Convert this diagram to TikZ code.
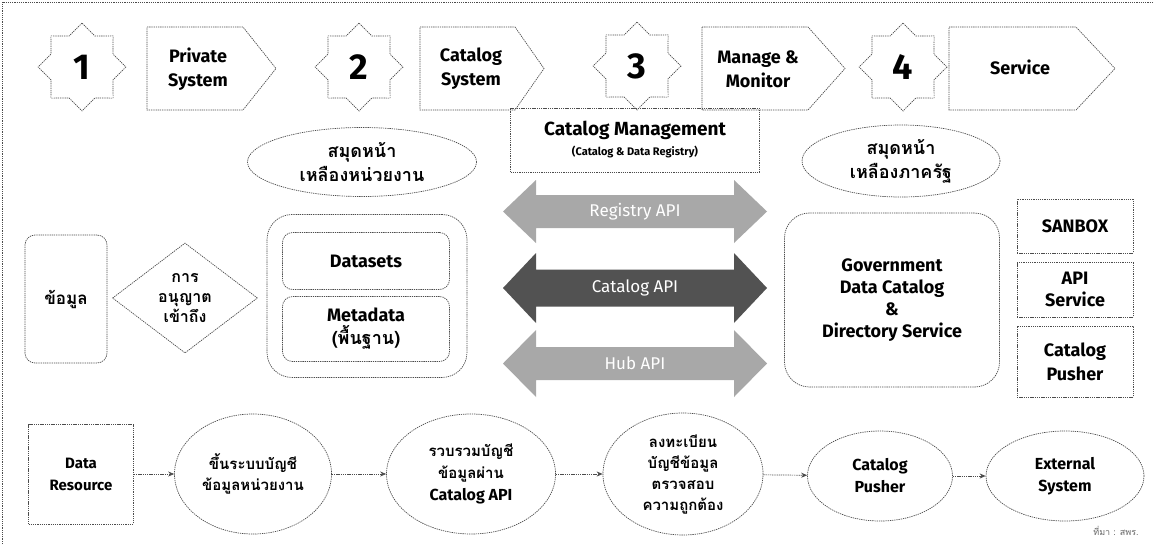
\documentclass[tikz,border=0pt]{standalone}
\usepackage{fontspec}
\setmainfont{Fira Sans}
\newfontfamily\thai[Script=Thai]{Loma}
\usetikzlibrary{shapes.geometric,arrows.meta}
\definecolor{lnc}{gray}{0.3}
\definecolor{lightarr}{gray}{0.66}
\definecolor{darkarr}{gray}{0.32}
\begin{document}
\begin{tikzpicture}[x=1pt,y=-1pt,
  ln/.style={draw=lnc, line width=0.7pt, dash pattern=on 1.3pt off 0.9pt},
  lbl/.style={align=center, font=\bfseries\fontsize{18}{24}\selectfont, inner sep=0pt},
  starshape/.style={ln, star, star points=8, star point ratio=1.31, minimum size=88pt, inner sep=0pt, font=\bfseries\fontsize{36}{36}\selectfont},
  sbox/.style={ln, rectangle, lbl},
  rbox/.style={ln, rectangle, rounded corners=10pt, lbl},
  ell/.style={ln, ellipse, lbl},
  conn/.style={ln, -{Stealth[length=6pt,width=5pt]}},
  th/.style={font=\thai\bfseries\fontsize{18}{24}\selectfont},
  thsmall/.style={font=\thai\bfseries\fontsize{15}{21}\selectfont},
  api/.style={font=\fontsize{17}{17}\selectfont, text=white, inner sep=0pt},
]
\useasboundingbox (0,0) rectangle (1154,544);
\fill[white] (0,0) rectangle (1154,544);
% frame (top and left edges as in the scan)
\draw[ln] (2,544) -- (2,2) -- (1154,2);

% ---- top row: stars and step pentagons
\node[starshape] (s1) at (82,67) {1};
\node[starshape] (s2) at (359,67) {2};
\node[starshape] (s3) at (637,66) {3};
\node[starshape] (s4) at (903,67) {4};

\node[lbl] (p1) at (198,69) {Private\\System};
\draw[ln] (147,27) -- (243,27) -- (276,68.5) -- (243,110) -- (147,110) -- cycle;
\node[lbl] (p2) at (471,69) {Catalog\\System};
\draw[ln] (420,27) -- (515,27) -- (544,68.5) -- (515,110) -- (420,110) -- cycle;
\node[lbl] (p3) at (758,69) {Manage \&\\Monitor};
\draw[ln] (702,27) -- (808,27) -- (845,68.5) -- (808,110) -- (702,110) -- cycle;
\node[lbl] (p4) at (1020,67) {Service};
\draw[ln] (949,27) -- (1076,27) -- (1115,68.5) -- (1076,110) -- (949,110) -- cycle;

% ---- middle
\node[ell, th, minimum width=229pt, minimum height=69pt] (yl) at (362,162) {สมุดหน้า\\เหลืองหน่วยงาน};
\node[sbox, minimum width=249pt, minimum height=64pt] (cm) at (635,140)
  {{\fontsize{19}{24}\selectfont Catalog Management}\\[-4pt]{\fontsize{11}{13}\selectfont (Catalog \& Data Registry)}};
\node[ell, th, minimum width=198pt, minimum height=72pt] (yr) at (901,161) {สมุดหน้า\\เหลืองภาครัฐ};

\node[rbox, minimum width=82pt, minimum height=128pt, font=\thai\bfseries\fontsize{17}{22}\selectfont] (data) at (66,299) {ข้อมูล};
\node[ln, diamond, lbl, minimum width=145pt, minimum height=110pt, font=\thai\bfseries\fontsize{16}{20}\selectfont] (perm) at (185,298) {การ\\อนุญาต\\เข้าถึง};

\node[ln, rectangle, rounded corners=25pt, minimum width=200pt, minimum height=163pt] (grp) at (367,296) {};
\node[rbox, minimum width=167pt, minimum height=57pt] (ds) at (366,261) {Datasets};
\node[rbox, minimum width=167pt, minimum height=65pt, font=\bfseries\fontsize{18}{23}\selectfont] (md) at (366,329) {Metadata\\{\thai (พื้นฐาน)}};

% API arrows
\coordinate (c1) at (635,211.5);
\fill[lightarr, shift={(c1)}] (-132,0) -- (-99,-31.5) -- (-99,-16.5) -- (99,-16.5) -- (99,-31.5) -- (132,0)
  -- (99,31.5) -- (99,16.5) -- (-99,16.5) -- (-99,31.5) -- cycle;
\node[api] (a1) at (c1) {Registry API};
\coordinate (c2) at (635,288);
\fill[darkarr, shift={(c2)}] (-132,0) -- (-99,-35) -- (-99,-18.5) -- (99,-18.5) -- (99,-35) -- (132,0)
  -- (99,35) -- (99,18.5) -- (-99,18.5) -- (-99,35) -- cycle;
\node[api] (a2) at (c2) {Catalog API};
\coordinate (c3) at (635,363.5);
\fill[lightarr, shift={(c3)}] (-132,0) -- (-99,-33.5) -- (-99,-16.5) -- (99,-16.5) -- (99,-33.5) -- (132,0)
  -- (99,33.5) -- (99,16.5) -- (-99,16.5) -- (-99,33.5) -- cycle;
\node[api] (a3) at (c3) {Hub API};

\node[ln, rectangle, rounded corners=25pt, lbl, minimum width=215pt, minimum height=174pt, font=\bfseries\fontsize{18}{22}\selectfont] (gov) at (892,300)
  {Government\\Data Catalog\\\&\\Directory Service};
\node[sbox, minimum width=116pt, minimum height=54pt] (sb) at (1075,226) {SANBOX};
\node[sbox, minimum width=116pt, minimum height=55pt, font=\bfseries\fontsize{18}{22}\selectfont] (apis) at (1075,289.5) {API\\Service};
\node[sbox, minimum width=116pt, minimum height=71pt, font=\bfseries\fontsize{18}{24}\selectfont] (cp) at (1075,361.5) {Catalog\\Pusher};

% ---- bottom row
\node[sbox, minimum width=105pt, minimum height=100pt, font=\bfseries\fontsize{15}{22}\selectfont] (dr) at (81,474) {Data\\Resource};
\node[ell, thsmall, minimum width=157pt, minimum height=120pt] (e1) at (253,474) {ขึ้นระบบบัญชี\\ข้อมูลหน่วยงาน};
\node[ell, minimum width=169pt, minimum height=120pt, font=\bfseries\fontsize{16}{22}\selectfont] (e2) at (471,474)
  {{\thai\fontsize{15}{22}\selectfont รวบรวมบัญชี}\\{\thai\fontsize{15}{22}\selectfont ข้อมูลผ่าน}\\Catalog API};
\node[ell, thsmall, minimum width=160pt, minimum height=122pt] (e3) at (683,474) {ลงทะเบียน\\บัญชีข้อมูล\\ตรวจสอบ\\ความถูกต้อง};
\node[ell, minimum width=145pt, minimum height=90pt, font=\bfseries\fontsize{16}{22}\selectfont] (e4) at (880,476) {Catalog\\Pusher};
\node[ell, minimum width=158pt, minimum height=90pt, font=\bfseries\fontsize{16}{22}\selectfont] (e5) at (1065,476) {External\\System};

\draw[conn] (dr) -- (e1);
\draw[conn] (e1) -- (e2);
\draw[conn] (e2) -- (e3);
\draw[conn] (e3) -- (e4);
\draw[conn] (e4) -- (e5);

\node[font=\thai\fontsize{9}{9}\selectfont, text=black!60, inner sep=0pt] (src) at (1116,531) {ที่มา : สพร.};
\end{tikzpicture}
\end{document}
